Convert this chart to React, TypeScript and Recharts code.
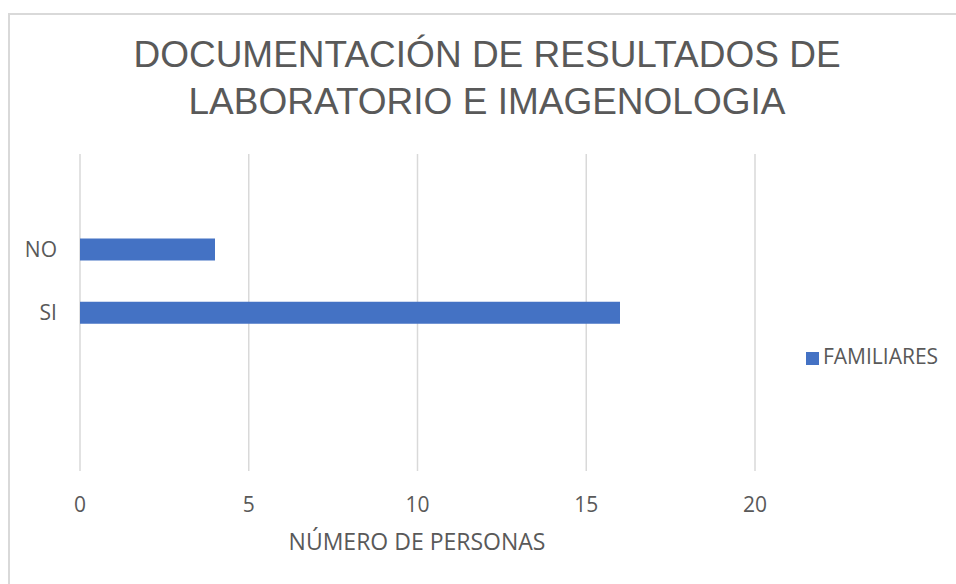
import { BarChart, Bar, XAxis, YAxis, CartesianGrid, Legend } from "recharts";

// Excel-style chart: categories include empty slots around NO / SI
const categories = ["", "NO", "SI", "", ""];
const familiares = [null, 4, 16, null, null];
const xTicks = [0, 5, 10, 15, 20];

const titleLines = ["DOCUMENTACIÓN DE RESULTADOS DE", "LABORATORIO E IMAGENOLOGIA"];
const xAxisTitle = "NÚMERO DE PERSONAS";
const seriesName = "FAMILIARES";

const data = categories.map((c, i) => ({ slot: i, label: c, value: familiares[i] }));

const textColor = "#595959";
const gridColor = "#d9d9d9";
const barColor = "#4472C4";
const bodyFont = "'Open Sans', sans-serif";

export default function App() {
    return (
        <div
            style={{
                position: "fixed",
                left: 0,
                top: 0,
                width: 956,
                height: 584,
                background: "#fff",
                overflow: "hidden",
            }}
        >
            {/* chart frame, only top and left edges are visible in the crop */}
            <div
                style={{
                    position: "absolute",
                    left: 8,
                    top: 13,
                    width: 1000,
                    height: 700,
                    border: `2px solid ${gridColor}`,
                    boxSizing: "border-box",
                }}
            />

            <BarChart
                layout="vertical"
                width={956}
                height={584}
                data={data}
                margin={{ top: 154, right: 51, bottom: 73, left: 0 }}
                style={{ position: "absolute", left: 0, top: 0 }}
            >
                <CartesianGrid horizontal={false} stroke={gridColor} strokeWidth={1.5} />
                <XAxis
                    type="number"
                    domain={[0, 20]}
                    ticks={xTicks}
                    axisLine={false}
                    tickLine={false}
                    tickSize={0}
                    tickMargin={26}
                    height={40}
                    tick={{ fill: textColor, fontSize: 21, fontFamily: bodyFont }}
                />
                <YAxis
                    type="category"
                    dataKey="slot"
                    width={80}
                    axisLine={false}
                    tickLine={false}
                    tickSize={0}
                    tickMargin={23}
                    interval={0}
                    tickFormatter={(v) => categories[v] ?? ""}
                    tick={{ fill: textColor, fontSize: 21, fontFamily: bodyFont }}
                />
                <Legend
                    layout="vertical"
                    align="right"
                    verticalAlign="middle"
                    iconType="square"
                    iconSize={13}
                    formatter={(v) => (
                        <span style={{ color: textColor, fontSize: 21, fontFamily: bodyFont }}>{v}</span>
                    )}
                    wrapperStyle={{
                        position: "absolute",
                        left: 806,
                        top: 342,
                        width: 150,
                        fontFamily: bodyFont,
                        fontSize: 21,
                        lineHeight: "28px",
                    }}
                />
                <Bar
                    dataKey="value"
                    name={seriesName}
                    fill={barColor}
                    barSize={22}
                    isAnimationActive={false}
                />
            </BarChart>

            <svg
                width={956}
                height={584}
                style={{ position: "absolute", left: 0, top: 0, pointerEvents: "none" }}
            >
                {titleLines.map((line, i) => (
                    <text
                        key={i}
                        x={487}
                        y={67 + i * 47}
                        textAnchor="middle"
                        fill={textColor}
                        fontSize={37}
                        fontFamily="'Liberation Sans', Arial, sans-serif"
                    >
                        {line}
                    </text>
                ))}
                <text
                    x={417}
                    y={550}
                    textAnchor="middle"
                    fill={textColor}
                    fontSize={23}
                    fontFamily={bodyFont}
                >
                    {xAxisTitle}
                </text>
            </svg>
        </div>
    );
}
